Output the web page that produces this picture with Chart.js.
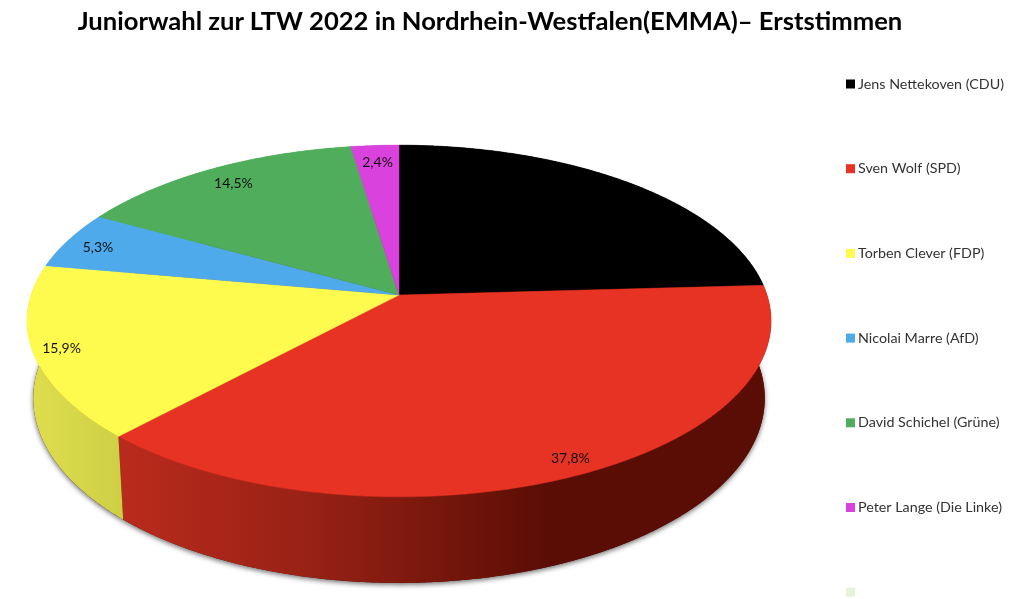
<!DOCTYPE html>
<html lang="de">
<head>
<meta charset="utf-8">
<title>Juniorwahl LTW 2022</title>
<script src="https://cdn.jsdelivr.net/npm/chart.js@4"></script>
<style>
    html, body { margin: 0; background: #fff; overflow: hidden; }
    #wrap { position: relative; width: 1024px; height: 599px; }
    #title {
        position: absolute; left: 0; top: 5px; width: 980px; margin: 0;
        text-align: center; white-space: nowrap;
        font: 700 25.6px Lato, sans-serif; color: #000;
    }
    canvas { position: absolute; left: 0; top: 0; }
</style>
</head>
<body>
<div id="wrap">
    <canvas id="chart" width="1024" height="599"></canvas>
    <h1 id="title">Juniorwahl zur LTW 2022 in Nordrhein-Westfalen(EMMA)– Erststimmen</h1>
</div>
<script>
const candidates = ['Jens Nettekoven (CDU)', 'Sven Wolf (SPD)', 'Torben Clever (FDP)', 'Nicolai Marre (AfD)', 'David Schichel (Grüne)', 'Peter Lange (Die Linke)', ''];
const shares = [24.1, 37.8, 15.9, 5.3, 14.5, 2.4, 0];
const colors = ['#000000', '#e73323', '#fffb4e', '#4eaaeb', '#4fad5b', '#d942dc', '#e8f2d8'];

// side wall shading, [x, colour] stops; slices behind the top face stay flat
const wallShades = {
    '#e73323': [[117, '#ba2b1c'], [300, '#9a2216'], [400, '#811a0f'], [550, '#5a0d05'], [771, '#5a0d05']],
    '#fffb4e': [[27, '#dede4e'], [123, '#cfcf46']],
};

// small hand placement of the value labels, one pair per slice
const labelNudge = [[0, 0], [7, 0], [-2, 1], [4, 3], [8, 5], [1, 6], [0, 0]];

// tilted disc: circle through a perspective projection
const apex = {x: 399, y: 295};
const disc = {rx: 368, ry: 172, k: 0.1477};
const base = {sx: 0.983, sy: 1.05, dy: 76};

function project(angle, f = 1) {
    const u = Math.cos(angle) * f;
    const v = Math.sin(angle) * f;
    const d = 1 - disc.k * v;
    return {x: apex.x + disc.rx * u / d, y: apex.y + disc.ry * v / d};
}

function lower(p) {
    return {
        x: apex.x + (p.x - apex.x) * base.sx,
        y: apex.y + (p.y - apex.y) * base.sy + base.dy,
    };
}

function rim(start, end) {
    const n = Math.max(2, Math.ceil((end - start) / 0.005));
    const pts = [];
    for (let i = 0; i <= n; i++) {
        pts.push(project(start + (end - start) * i / n));
    }
    return pts;
}

function fillPath(ctx, pts) {
    ctx.beginPath();
    pts.forEach((p, i) => i ? ctx.lineTo(p.x, p.y) : ctx.moveTo(p.x, p.y));
    ctx.closePath();
    ctx.fill();
}

function wallFill(ctx, color) {
    const stops = wallShades[color];
    if (!stops) {
        return color;
    }
    const x0 = stops[0][0];
    const x1 = stops[stops.length - 1][0];
    const grad = ctx.createLinearGradient(x0, 0, x1, 0);
    stops.forEach(([x, c]) => grad.addColorStop((x - x0) / (x1 - x0), c));
    return grad;
}

const tiltedPie = {
    id: 'tiltedPie',
    beforeDatasetsDraw(chart) {
        const ctx = chart.ctx;
        const arcs = chart.getDatasetMeta(0).data;

        // soft shadow under the disc
        ctx.save();
        ctx.shadowColor = 'rgba(0, 0, 0, 0.55)';
        ctx.shadowBlur = 5;
        ctx.shadowOffsetY = 2;
        ctx.fillStyle = '#5a0d05';
        fillPath(ctx, rim(0, Math.PI * 2).map(lower));
        ctx.restore();

        arcs.forEach((arc, i) => {
            if (shares[i] === 0) {
                return;
            }
            const outer = rim(arc.startAngle, arc.endAngle);
            ctx.fillStyle = wallFill(ctx, colors[i]);
            fillPath(ctx, outer.concat(outer.map(lower).reverse()));
        });
        arcs.forEach((arc, i) => {
            if (shares[i] === 0) {
                return;
            }
            ctx.fillStyle = colors[i];
            ctx.strokeStyle = colors[i];
            ctx.lineWidth = 0.5;
            fillPath(ctx, [apex].concat(rim(arc.startAngle, arc.endAngle)));
            ctx.stroke();
        });
        return false;
    },
    afterDraw(chart) {
        const ctx = chart.ctx;
        const arcs = chart.getDatasetMeta(0).data;
        ctx.save();

        // value labels, the black slice has none that can be seen
        ctx.font = '14px Lato, sans-serif';
        ctx.fillStyle = '#111';
        ctx.textAlign = 'center';
        ctx.textBaseline = 'middle';
        arcs.forEach((arc, i) => {
            if (shares[i] === 0 || colors[i] === '#000000') {
                return;
            }
            const p = project((arc.startAngle + arc.endAngle) / 2, 0.92);
            const text = shares[i].toFixed(1).replace('.', ',') + '%';
            ctx.fillText(text, p.x + labelNudge[i][0], p.y + labelNudge[i][1]);
        });

        // legend with the tight swatch gap of the original
        ctx.font = '14.3px Lato, sans-serif';
        ctx.textAlign = 'left';
        candidates.forEach((name, i) => {
            const y = 84 + i * 84.7;
            ctx.fillStyle = colors[i];
            ctx.fillRect(846, y - 4.5, 9, 9);
            ctx.fillStyle = '#333';
            ctx.fillText(name, 858, y);
        });
        ctx.restore();
    },
};

new Chart(document.getElementById('chart'), {
    type: 'pie',
    data: {
        labels: candidates,
        datasets: [{data: shares, backgroundColor: colors}],
    },
    options: {
        responsive: false,
        animation: false,
        plugins: {legend: {display: false}, tooltip: {enabled: false}},
    },
    plugins: [tiltedPie],
});
</script>
</body>
</html>
